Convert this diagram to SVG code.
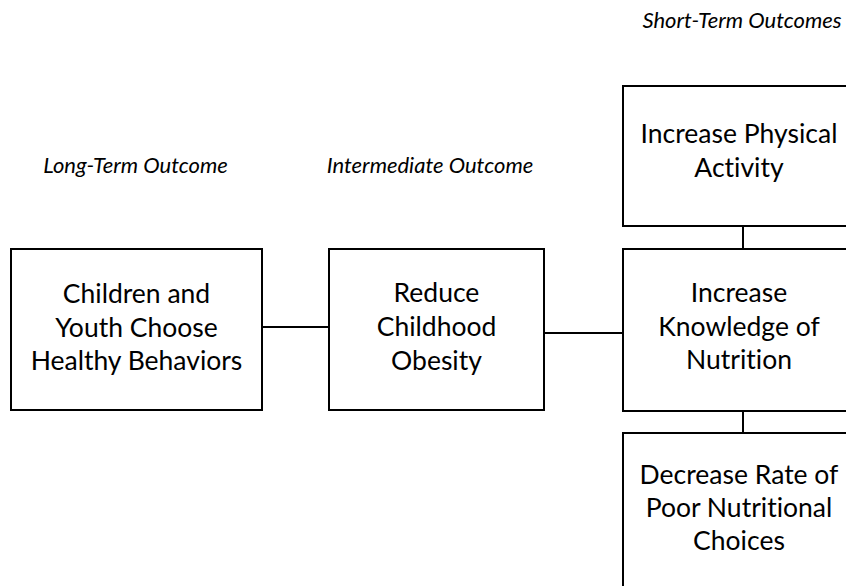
<svg xmlns="http://www.w3.org/2000/svg" width="846" height="586" viewBox="0 0 846 586">
<style>
.box{fill:#fff;stroke:#000;stroke-width:2}
.t{font-family:Lato,"Liberation Sans",sans-serif;font-size:26.5px;text-anchor:middle;fill:#000;font-variant-ligatures:none;font-feature-settings:"liga" 0,"dlig" 0}
.h{font-family:Lato,"Liberation Sans",sans-serif;font-size:22px;font-style:italic;text-anchor:middle;fill:#000;font-variant-ligatures:none}
.c{stroke:#000;stroke-width:2;fill:none}
</style>
<rect width="846" height="586" fill="#fff"/>
<text class="h" x="135.5" y="173">Long-Term Outcome</text>
<text class="h" x="430" y="173">Intermediate Outcome</text>
<text class="h" x="742" y="28">Short-Term Outcomes</text>
<g id="connectors">
<line class="c" x1="262" y1="327" x2="329" y2="327"/>
<line class="c" x1="544" y1="333" x2="623" y2="333"/>
<line class="c" x1="743" y1="226" x2="743" y2="249"/>
<line class="c" x1="743" y1="411" x2="743" y2="433"/>
</g>
<g id="n1">
<rect class="box" x="11" y="249" width="251" height="161"/>
<text class="t" x="136.5" y="303">Children and</text>
<text class="t" x="136.5" y="337">Youth Choose</text>
<text class="t" x="136.5" y="370">Healthy Behaviors</text>
</g>
<g id="n2">
<rect class="box" x="329" y="249" width="215" height="161"/>
<text class="t" x="436.5" y="302">Reduce</text>
<text class="t" x="436.5" y="336">Childhood</text>
<text class="t" x="436.5" y="370">Obesity</text>
</g>
<g id="n3">
<rect class="box" x="623" y="86" width="240" height="140"/>
<text class="t" x="739" y="143">Increase Physical</text>
<text class="t" x="739" y="177">Activity</text>
</g>
<g id="n4">
<rect class="box" x="623" y="249" width="240" height="162"/>
<text class="t" x="739" y="302">Increase</text>
<text class="t" x="739" y="336">Knowledge of</text>
<text class="t" x="739" y="369">Nutrition</text>
</g>
<g id="n5">
<rect class="box" x="623" y="433" width="240" height="170"/>
<text class="t" x="739" y="484">Decrease Rate of</text>
<text class="t" x="739" y="517">Poor Nutritional</text>
<text class="t" x="739" y="550">Choices</text>
</g>
</svg>
